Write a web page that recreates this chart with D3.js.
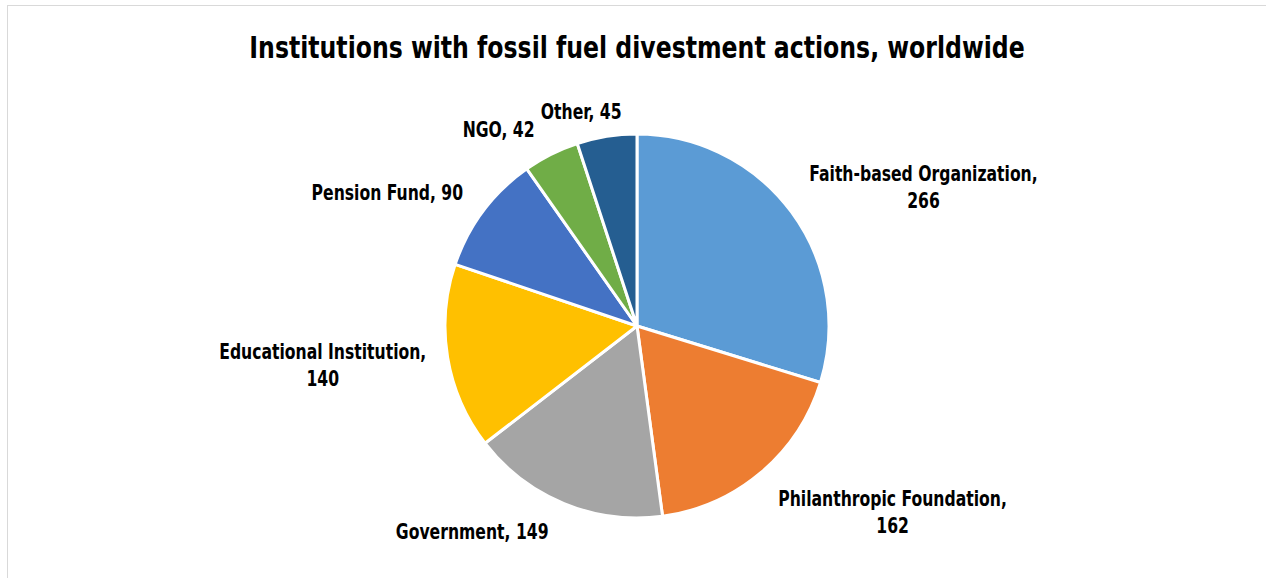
<!DOCTYPE html>
<html>
<head>
<meta charset="utf-8">
<script src="https://cdn.jsdelivr.net/npm/d3@7"></script>
<style>
  body { margin: 0; background: #fff; }
  text { font-family: "DejaVu Sans Condensed", "DejaVu Sans", sans-serif; font-stretch: condensed; fill: #000; }
</style>
</head>
<body>
<svg id="chart" width="1266" height="578"></svg>
<script>
// data
const categories = ["Faith-based Organization", "Philanthropic Foundation", "Government",
                    "Educational Institution", "Pension Fund", "NGO", "Other"],
      values = [266, 162, 149, 140, 90, 42, 45],
      colors = ["#5B9BD5", "#ED7D31", "#A5A5A5", "#FFC000", "#4472C4", "#70AD47", "#255E91"],
      twoLines = [true, true, false, true, false, false, false],
      title = "Institutions with fossil fuel divestment actions, worldwide";

// label nudge from the point just outside each slice
const labelNudge = [[124, -25], [125, 26], [-88, 26], [-115, 0], [-88, -5], [-48, -8], [-24, -8]];

const svg = d3.select("#chart"),
    width = +svg.attr("width"),
    height = +svg.attr("height"),
    cx = 637, cy = 326,
    radius = 192,
    squeeze = 0.79,      // narrow the font to look like the condensed original
    titleSqueeze = 0.846;

// chart frame
svg.append("rect")
    .attr("x", 7.5).attr("y", 5.5)
    .attr("width", width + 20).attr("height", height + 20)
    .attr("fill", "none")
    .attr("stroke", "#d9d9d9");

svg.append("text")
    .attr("transform", "translate(" + cx + ",58) scale(" + titleSqueeze + ",1)")
    .attr("text-anchor", "middle")
    .style("font-size", "31px")
    .style("font-weight", "bold")
    .text(title);

const pie = d3.pie().sort(null).value(function(d) { return d; });
const arcs = pie(values);

const arc = d3.arc().innerRadius(0).outerRadius(radius);
const labelArc = d3.arc().innerRadius(radius + 10).outerRadius(radius + 10);

const g = svg.append("g")
    .attr("transform", "translate(" + cx + "," + cy + ")");

g.selectAll("path")
    .data(arcs)
  .enter().append("path")
    .attr("d", arc)
    .attr("fill", function(d, i) { return colors[i]; })
    .attr("stroke", "#fff")
    .attr("stroke-width", 3)
    .attr("stroke-linejoin", "round");

const labels = g.selectAll("text.lbl")
    .data(arcs)
  .enter().append("text")
    .attr("class", "lbl")
    .attr("text-anchor", "middle")
    .style("font-size", "22px")
    .style("font-weight", "bold")
    .attr("transform", function(d, i) {
      const p = labelArc.centroid(d);
      return "translate(" + (p[0] + labelNudge[i][0]) + "," + (p[1] + labelNudge[i][1]) + ") scale(" + squeeze + ",1)";
    });

labels.each(function(d, i) {
  const t = d3.select(this);
  if (twoLines[i]) {
    t.append("tspan").attr("x", 0).attr("y", 0).text(categories[i] + ",");
    t.append("tspan").attr("x", 0).attr("y", 27).text(values[i]);
  } else {
    t.append("tspan").attr("x", 0).attr("y", 0).text(categories[i] + ", " + values[i]);
  }
});
</script>
</body>
</html>
